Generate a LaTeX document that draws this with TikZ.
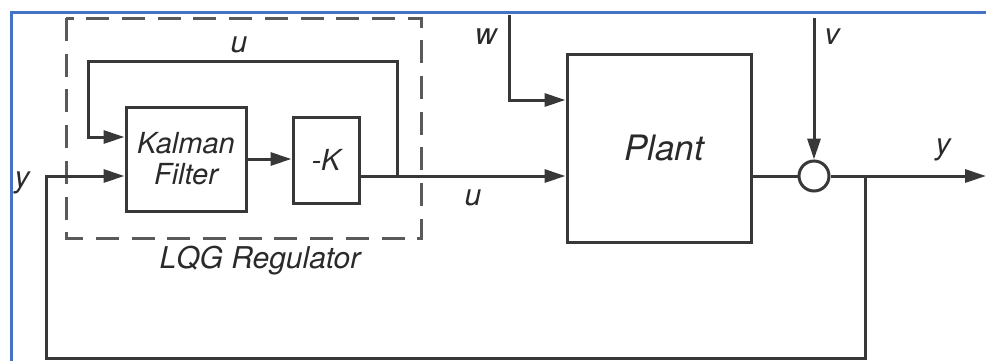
\documentclass[tikz,border=0pt]{standalone}
\usepackage{fontspec}
\setmainfont{TeX Gyre Heros}
\usetikzlibrary{arrows.meta,calc}
\definecolor{ln}{HTML}{383838}
\definecolor{txt}{HTML}{2A2A2A}
\definecolor{dashgray}{HTML}{5A5A5A}
\definecolor{frameblue}{HTML}{4472C4}
\begin{document}
\begin{tikzpicture}[x=1pt,y=-1pt,
  blk/.style={draw=ln, line width=3pt, inner sep=0pt, text=txt, align=center},
  conn/.style={draw=ln, line width=3pt},
  arr/.style={conn, -{Triangle[length=21pt,width=13pt]}},
  lbl/.style={text=txt, font=\fontsize{30}{36}\selectfont\itshape, inner sep=0pt},
]
\useasboundingbox (0,0) rectangle (986,360);
% blue frame
\draw[frameblue, line width=3pt] (11,362) -- (11,12) -- (988,12);
% dashed regulator box
\draw[dashgray, line width=3pt, dash pattern=on 23pt off 12.7pt] (66,18) rectangle (421,238);
% blocks
\node[blk, minimum width=120pt, minimum height=104pt,
      font=\fontsize{29}{31}\selectfont\itshape] (kf) at (186,159) {Kalman\\Filter};
\node[blk, minimum width=66pt, minimum height=86pt,
      font=\fontsize{29}{31}\selectfont\itshape] (k) at (326,160) {-K};
\node[blk, minimum width=184pt, minimum height=188pt,
      font=\fontsize{35}{40}\selectfont\itshape] (plant) at (659,148) {\hspace*{10pt}Plant};
\node[draw=ln, line width=3pt, circle, minimum size=30pt, inner sep=0pt] (sum) at (814,176) {};
% coordinates
\coordinate (uj) at (397,176);
\coordinate (utop) at (397,61);
\coordinate (uleft) at (88,61);
\coordinate (br) at (865,176);
\coordinate (fbr) at (865,358);
\coordinate (fbl) at (46,358);
\coordinate (out) at (986,176);
\coordinate (vin) at (814,18);
\coordinate (win) at (509,15);
\coordinate (wc) at (509,100);
% connectors
\draw[arr] (kf.east) -- (k.west |- kf.east);
\draw[arr] (k.east |- sum) -- (plant.west |- sum);
\draw[arr] (uj) -- (utop) -- (uleft) |- ($(kf.west)+(0,-22)$);
\draw[arr] (br) -- (fbr) -- (fbl) |- (kf.west |- sum);
\draw[conn] (plant.east |- sum) -- (sum.west);
\draw[arr] (sum.east) -- (out);
\draw[arr] (vin) -- (sum.north);
\draw[arr] (win) -- (wc) -- (plant.west |- wc);
% labels
\node[lbl] (lu1) at (239,45) {u};
\node[lbl] (ly1) at (22,183) {y};
\node[lbl] (lw) at (486,37) {w};
\node[lbl] (lv) at (832,37) {v};
\node[lbl] (lu2) at (473,198) {u};
\node[lbl] (ly2) at (943,150) {y};
\node[lbl, anchor=base] (lqg) at (260,268) {LQG Regulator};
\end{tikzpicture}
\end{document}
